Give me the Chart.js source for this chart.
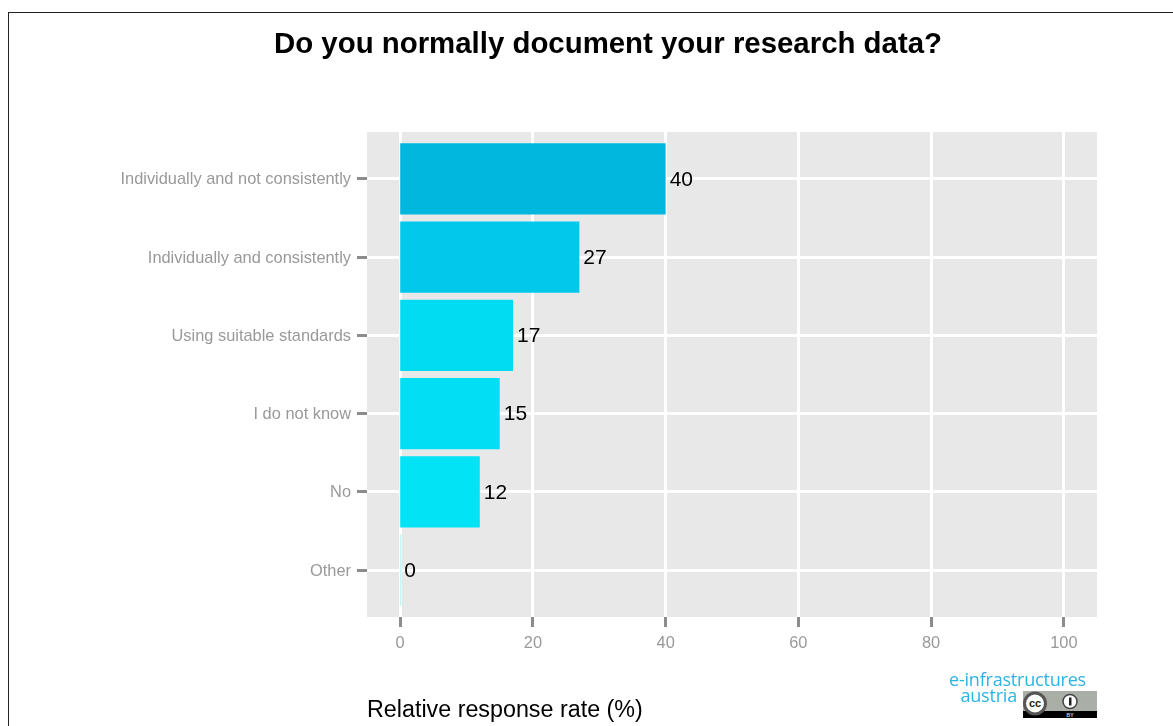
<!DOCTYPE html>
<html>
<head>
<meta charset="utf-8">
<script src="https://cdn.jsdelivr.net/npm/chart.js@4"></script>
<style>
  html, body { margin: 0; padding: 0; background: #fff; overflow: hidden; width: 1173px; height: 726px; }
  #frame { position: absolute; left: 8px; top: 12px; width: 1200px; height: 714px; border-left: 1px solid #222; border-top: 1px solid #222; box-sizing: border-box; }
  #wrap { position: absolute; left: 8px; top: 12px; width: 1200px; height: 714px; }
  #logo { position: absolute; left: 900px; top: 671px; width: 186px; text-align: right; font: 400 18px/16px "Open Sans", sans-serif; letter-spacing: -0.2px; color: #2cb4e4; white-space: nowrap; }
  #logo span { display: block; }
  #badge { position: absolute; left: 1023px; top: 691px; }
</style>
</head>
<body>
<div id="frame"></div>
<div id="wrap"><canvas id="myChart"></canvas></div>
<div id="logo"><span>e-infrastructures</span><span style="margin-right:69px">austria</span></div>
<svg id="badge" width="74" height="27" viewBox="0 0 74 27">
  <rect width="74" height="27" fill="#a9afa6"/>
  <rect y="20" width="74" height="7" fill="#000"/>
  <circle cx="12" cy="12.5" r="10.5" fill="#fff" stroke="#555" stroke-width="3"/>
  <circle cx="47" cy="10.5" r="7" fill="#fff" stroke="#444" stroke-width="1.5"/>
  <rect x="46" y="6.5" width="2.5" height="8" fill="#222"/>
  <text x="12" y="16" font-family="Liberation Sans" font-weight="bold" font-size="11" text-anchor="middle" fill="#222">cc</text>
  <text x="47" y="26" font-family="Liberation Sans" font-weight="bold" font-size="5" text-anchor="middle" fill="#ccc">BY</text>
</svg>
<script>
const categories = ['Individually and not consistently', 'Individually and consistently', 'Using suitable standards', 'I do not know', 'No', 'Other'];
const positions = [1, 2, 3, 4, 5, 6];
const rates = [40, 27, 17, 15, 12, 0.2];
const barColors = ['#02b7de', '#02c9ec', '#02dcf2', '#02def4', '#02e3f6', '#b9f6f2'];
const xTicks = [0, 20, 40, 60, 80, 100];

// grey ggplot panel behind the grid, title centred on the whole canvas
const panel = {
  id: 'panel',
  afterLayout(chart) {
    chart.titleBlock.left = 0;
    chart.titleBlock.right = chart.width;
  },
  beforeDraw(chart) {
    const a = chart.chartArea;
    chart.ctx.fillStyle = '#e8e8e8';
    chart.ctx.fillRect(a.left, a.top, a.width, a.height);
  }
};

// numbers next to the bars
const barLabels = {
  id: 'barLabels',
  afterDatasetsDraw(chart) {
    const ctx = chart.ctx;
    const x = chart.scales.x;
    ctx.save();
    ctx.font = '21px "Liberation Sans"';
    ctx.fillStyle = '#000';
    ctx.textBaseline = 'middle';
    chart.getDatasetMeta(0).data.forEach((bar, i) => {
      const shown = Math.round(rates[i]);
      ctx.fillText(shown, x.getPixelForValue(shown) + 4, bar.y + 1);
    });
    ctx.restore();
  }
};

var ctx = document.getElementById('myChart');

var myChart = new Chart(ctx, {
  type: 'bar',
  plugins: [panel, barLabels],
  data: {
    datasets: [{
      data: rates.map((r, i) => ({ x: r, y: positions[i] })),
      backgroundColor: barColors,
      base: 0.001,
      barPercentage: 0.91,
      categoryPercentage: 1
    }]
  },
  options: {
    indexAxis: 'y',
    responsive: true,
    maintainAspectRatio: false,
    animation: false,
    layout: { padding: { right: 111 } },
    plugins: {
      legend: { display: false },
      tooltip: { enabled: false },
      title: {
        display: true,
        text: 'Do you normally document your research data?',
        color: '#000',
        font: { family: 'Liberation Sans', size: 29.4, weight: 'bold' },
        padding: { top: 15, bottom: 69.7 }
      }
    },
    scales: {
      x: {
        type: 'linear',
        min: -5,
        max: 105,
        afterBuildTicks(scale) {
          scale.ticks = xTicks.map(v => ({ value: v }));
        },
        afterFit(scale) { scale.height = 109; },
        grid: { color: '#fff', lineWidth: 3, tickColor: '#8c8c8c', tickLength: 10, tickWidth: 3, drawTicks: true },
        border: { display: false },
        ticks: { color: '#999', font: { family: 'Liberation Sans', size: 16.4 }, padding: 7, maxRotation: 0 },
        title: {
          display: true,
          text: 'Relative response rate (%)',
          align: 'start',
          color: '#000',
          font: { family: 'Liberation Sans', size: 23.3 },
          padding: { top: 0, bottom: 1 }
        }
      },
      y: {
        type: 'linear',
        offset: false,
        reverse: true,
        min: 0.4,
        max: 6.6,
        afterBuildTicks(scale) {
          scale.ticks = positions.map(v => ({ value: v }));
        },
        afterFit(scale) { scale.width = 359; },
        grid: { offset: false, color: '#fff', lineWidth: 3, tickColor: '#8c8c8c', tickLength: 10, tickWidth: 3, drawTicks: true },
        border: { display: false },
        ticks: {
          color: '#999',
          font: { family: 'Liberation Sans', size: 16.4 },
          padding: 6,
          labelOffset: 1,
          callback: v => categories[positions.indexOf(v)]
        }
      }
    }
  }
});
</script>
</body>
</html>
